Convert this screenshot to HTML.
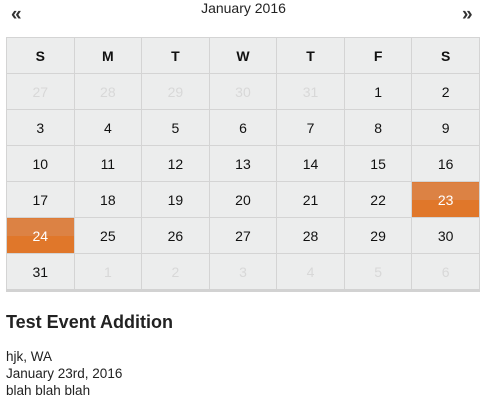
<!DOCTYPE html>
<html><head><meta charset="utf-8"><style>
body{margin:0;width:487px;height:405px;background:#fff;font-family:"Liberation Sans",sans-serif;color:#111;position:relative;overflow:hidden}
.nav{position:absolute;top:4px;font-size:19px;font-weight:bold;color:#333}
#title{position:absolute;left:0;width:487px;top:0;text-align:center;font-size:14px;color:#222}
table{position:absolute;left:6px;top:37px;width:474px;border-collapse:collapse;background:#eceded;border-bottom:3px solid #d2d2d2}
td,th{border:1px solid #d4d4d4;height:35px;text-align:center;font-size:14px;padding:0;width:67.7px}
th{font-weight:bold}
.o{color:#d8d8d8}
.h{background:linear-gradient(#dc8244 0,#dc8244 50%,#e0772a 50%);color:#fff}
h2{position:absolute;left:6px;top:312px;margin:0;font-size:18px;font-weight:bold;color:#222}
.info{position:absolute;left:6px;top:348px;font-size:13.5px;line-height:17px;color:#222}
</style></head><body>
<div class="nav" style="left:11px">«</div>
<div class="nav" style="left:462px">»</div>
<div id="title">January 2016</div>
<table>
<tr><th>S</th><th>M</th><th>T</th><th>W</th><th>T</th><th>F</th><th>S</th></tr>
<tr><td class="o">27</td><td class="o">28</td><td class="o">29</td><td class="o">30</td><td class="o">31</td><td>1</td><td>2</td></tr>
<tr><td>3</td><td>4</td><td>5</td><td>6</td><td>7</td><td>8</td><td>9</td></tr>
<tr><td>10</td><td>11</td><td>12</td><td>13</td><td>14</td><td>15</td><td>16</td></tr>
<tr><td>17</td><td>18</td><td>19</td><td>20</td><td>21</td><td>22</td><td class="h">23</td></tr>
<tr><td class="h">24</td><td>25</td><td>26</td><td>27</td><td>28</td><td>29</td><td>30</td></tr>
<tr><td>31</td><td class="o">1</td><td class="o">2</td><td class="o">3</td><td class="o">4</td><td class="o">5</td><td class="o">6</td></tr>
</table>
<h2>Test Event Addition</h2>
<div class="info">hjk, WA<br>January 23rd, 2016<br>blah blah blah</div>
</body></html>
